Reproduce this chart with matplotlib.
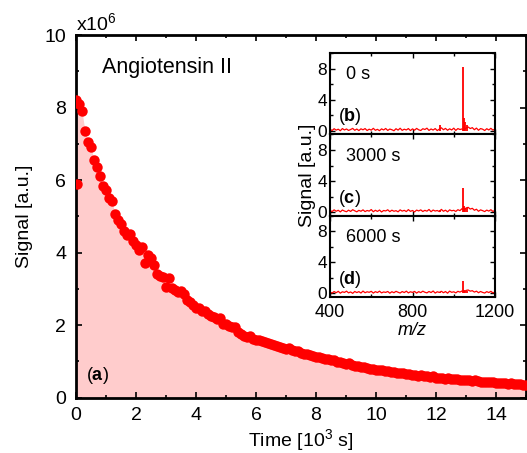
import numpy as np
import matplotlib
matplotlib.use('Agg')
import matplotlib.pyplot as plt
from matplotlib.ticker import MultipleLocator

plt.rcParams['font.family'] = ['Liberation Sans', 'DejaVu Sans']
plt.rcParams['mathtext.fontset'] = 'custom'
plt.rcParams['mathtext.rm'] = 'Liberation Sans'
plt.rcParams['mathtext.bf'] = 'Liberation Sans:bold'
plt.rcParams['mathtext.default'] = 'regular'

# main panel: signal decay (time in 10^3 s, signal in 10^6 a.u.)
time_k = np.round(np.arange(0, 15.01, 0.1), 1)
signal_m = [
    8.20, 8.10, 7.90, 7.35, 7.05, 6.90, 6.55, 6.35, 6.10, 5.85,
    5.72, 5.50, 5.42, 5.05, 4.90, 4.78, 4.60, 4.48, 4.52, 4.32,
    4.20, 4.08, 4.15, 3.72, 3.92, 3.85, 3.66, 3.40, 3.36, 3.32,
    3.05, 3.30, 3.02, 2.98, 2.90, 2.95, 2.85, 2.70, 2.64, 2.56,
    2.48, 2.47, 2.38, 2.40, 2.30, 2.26, 2.22, 2.18, 2.20, 2.04,
    2.02, 1.98, 1.94, 1.95, 1.82, 1.75, 1.70, 1.68, 1.70, 1.62,
    1.60, 1.58, 1.55, 1.52, 1.50, 1.47, 1.44, 1.42, 1.40, 1.36,
    1.34, 1.36, 1.30, 1.27, 1.28, 1.24, 1.21, 1.20, 1.16, 1.14,
    1.12, 1.13, 1.08, 1.07, 1.05, 1.03, 1.04, 0.99, 0.98, 0.95,
    0.93, 0.94, 0.90, 0.88, 0.87, 0.85, 0.83, 0.81, 0.80, 0.78,
    0.76, 0.77, 0.75, 0.73, 0.72, 0.70, 0.71, 0.68, 0.67, 0.68,
    0.65, 0.64, 0.63, 0.62, 0.60, 0.61, 0.59, 0.58, 0.57, 0.58,
    0.55, 0.55, 0.54, 0.52, 0.53, 0.51, 0.50, 0.51, 0.49, 0.48,
    0.48, 0.47, 0.46, 0.47, 0.45, 0.44, 0.44, 0.43, 0.42, 0.43,
    0.41, 0.40, 0.41, 0.39, 0.38, 0.39, 0.37, 0.36, 0.37, 0.35, 0.35,
]
outlier_t = [0.02]
outlier_s = [5.9]

# inset spectra (m/z grid every 10)
mz_grid = np.arange(400, 1201, 10)
base_0s = [0.20, 0.05, 0.28, 0.10, 0.22, 0.02, 0.30, 0.12, 0.25, 0.06,
           0.18, 0.32, 0.08, 0.24, 0.04, 0.27, 0.14, 0.30, 0.05, 0.22,
           0.10, 0.33, 0.08, 0.20, 0.03, 0.26, 0.12, 0.31, 0.06, 0.24,
           0.15, 0.02, 0.28, 0.10, 0.34, 0.07, 0.22, 0.12, 0.30, 0.04,
           0.26, 0.09, 0.32, 0.14, 0.05, 0.28, 0.18, 0.35, 0.06, 0.25,
           0.11, 0.30, 0.04, 0.23, 0.40, 0.15, 0.32, 0.08, 0.27, 0.12,
           0.35, 0.06, 0.30, 0.18, 0.25, 0.10, 0.38, 0.50, 0.30, 0.42,
           0.15, 0.36, 0.08, 0.30, 0.22, 0.05, 0.28, 0.12, 0.33, 0.10, 0.25]
base_3000s = [0.22, 0.08, 0.30, 0.12, 0.25, 0.04, 0.28, 0.15, 0.06, 0.26,
              0.10, 0.32, 0.18, 0.05, 0.24, 0.12, 0.30, 0.08, 0.22, 0.14,
              0.34, 0.06, 0.25, 0.10, 0.28, 0.03, 0.22, 0.16, 0.31, 0.07,
              0.26, 0.12, 0.20, 0.05, 0.30, 0.14, 0.24, 0.08, 0.33, 0.11,
              0.22, 0.04, 0.27, 0.16, 0.30, 0.09, 0.24, 0.13, 0.35, 0.06,
              0.28, 0.15, 0.22, 0.08, 0.36, 0.12, 0.26, 0.05, 0.30, 0.18,
              0.24, 0.10, 0.32, 0.20, 0.45, 0.28, 0.55, 0.62, 0.40, 0.50,
              0.25, 0.38, 0.12, 0.30, 0.20, 0.08, 0.27, 0.14, 0.32, 0.10, 0.24]
base_6000s = [0.18, 0.06, 0.25, 0.10, 0.28, 0.04, 0.22, 0.14, 0.30, 0.08,
              0.20, 0.02, 0.26, 0.12, 0.24, 0.06, 0.31, 0.10, 0.22, 0.15,
              0.28, 0.05, 0.24, 0.12, 0.30, 0.08, 0.20, 0.14, 0.26, 0.04,
              0.23, 0.10, 0.28, 0.16, 0.06, 0.25, 0.12, 0.30, 0.08, 0.22,
              0.14, 0.27, 0.05, 0.24, 0.11, 0.30, 0.16, 0.08, 0.26, 0.12,
              0.32, 0.06, 0.22, 0.14, 0.28, 0.10, 0.25, 0.04, 0.30, 0.15,
              0.22, 0.08, 0.28, 0.18, 0.32, 0.22, 0.40, 0.45, 0.30, 0.36,
              0.18, 0.30, 0.10, 0.26, 0.14, 0.06, 0.24, 0.12, 0.28, 0.08, 0.20]
peak_mz = [935, 1046, 1050, 1056, 1064]
peak_0s = [0.8, 8.2, 1.7, 1.2, 0.7]
peak_3000s = [0.3, 3.1, 0.8, 0.6, 0.5]
peak_6000s = [0.2, 1.6, 0.4, 0.3, 0.3]

spectra = [
    (base_0s, peak_0s, '0 s', 'b'),
    (base_3000s, peak_3000s, '3000 s', 'c'),
    (base_6000s, peak_6000s, '6000 s', 'd'),
]

RED = '#ff0000'
PINK = '#ffcccc'

fig = plt.figure(figsize=(5.27, 4.53), dpi=100)
ax = fig.add_axes([0.1442, 0.1225, 0.854, 0.800])

ax.fill_between(time_k, signal_m, 0, color=PINK, lw=0, zorder=1)
ax.plot(time_k, signal_m, 'o', color=RED, ms=7.5, mec='none', zorder=3)
ax.plot(outlier_t, outlier_s, 'o', color=RED, ms=7.5, mec='none', zorder=3)

ax.set_xlim(0, 15)
ax.set_ylim(0, 10)
ax.xaxis.set_major_locator(MultipleLocator(2))
ax.xaxis.set_minor_locator(MultipleLocator(1))
ax.yaxis.set_major_locator(MultipleLocator(2))
ax.yaxis.set_minor_locator(MultipleLocator(1))
ax.tick_params(which='both', direction='in', top=True, right=True, width=1.2)
ax.tick_params(which='major', length=4, labelsize=14, pad=7)
ax.tick_params(which='minor', length=2)
for sp in ax.spines.values():
    sp.set_linewidth(2)
ax.set_xlabel('Time [10$^3$ s]', fontsize=14, labelpad=2)
ax.set_ylabel('Signal [a.u.]', fontsize=14, labelpad=8)
ax.text(0.0, 1.003, 'x10$^6$', transform=ax.transAxes, fontsize=14,
        ha='left', va='bottom')
ax.text(0.87, 9.1, 'Angiotensin II', fontsize=15.5, va='center')
ax.text(0.35, 0.62, r'($\mathbf{a}$)', fontsize=13, va='center')

# inset: three stacked spectra
ins_left, ins_w = 330 / 527, 165 / 527
ins_h = 81.3 / 453
ins_bottom = 1 - 297 / 453
inset_axes = []
for i, (base, peaks, label, letter) in enumerate(spectra):
    b = ins_bottom + (2 - i) * ins_h
    iax = fig.add_axes([ins_left, b, ins_w, ins_h])
    iax.plot(mz_grid, base, color=RED, lw=0.9)
    iax.vlines(peak_mz, 0, peaks, color=RED, lw=1.3)
    iax.set_xlim(400, 1200)
    iax.set_ylim(-0.45, 10)
    iax.xaxis.set_major_locator(MultipleLocator(400))
    iax.xaxis.set_minor_locator(MultipleLocator(200))
    iax.set_yticks([0, 4, 8])
    iax.yaxis.set_minor_locator(MultipleLocator(2))
    iax.tick_params(which='both', direction='in', top=True, right=True, width=1)
    iax.tick_params(which='major', length=3.5, labelsize=12.5, pad=2)
    iax.tick_params(which='minor', length=2)
    iax.tick_params(axis='x', labelsize=13, pad=5)
    for sp in iax.spines.values():
        sp.set_linewidth(1.5)
    if i < 2:
        iax.tick_params(axis='x', labelbottom=False)
    iax.text(480, 7.2, label, fontsize=13, va='center')
    iax.text(440, 1.8, r'($\mathbf{%s}$)' % letter, fontsize=13, va='center')
    inset_axes.append(iax)

inset_axes[1].set_ylabel('Signal [a.u.]', fontsize=14, labelpad=1)
inset_axes[2].set_xlabel('m/z', fontsize=13, fontstyle='italic', labelpad=1)

fig.savefig('out.png', dpi=100)
